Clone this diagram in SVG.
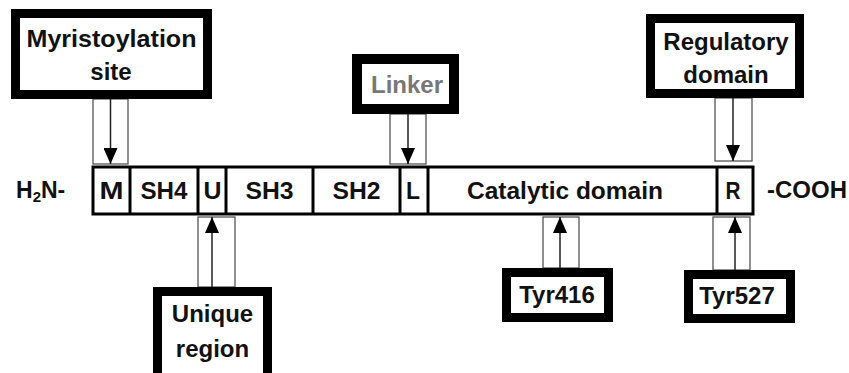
<svg xmlns="http://www.w3.org/2000/svg" width="849" height="373" viewBox="0 0 849 373">
<defs>
<style>
text{font-family:"Liberation Sans",Arial,sans-serif;font-weight:bold;fill:#111;text-anchor:middle}
.lbl{font-size:24px}
.bar{font-size:23px}
.box{fill:#fff;stroke:#000;stroke-width:9}
.seg{fill:#fff;stroke:#000;stroke-width:3}
.div{stroke:#000;stroke-width:3}
.sleeve{fill:none;stroke:#555;stroke-width:1.3}
.arr{stroke:#222;stroke-width:1.5}
</style>
<marker id="ahb" viewBox="0 0 16 14" refX="16" refY="7" markerWidth="16" markerHeight="14" markerUnits="userSpaceOnUse" orient="auto">
<path d="M0,0 L16,7 L0,14 Z" fill="#000"/>
</marker>
</defs>
<rect width="849" height="373" fill="#fff"/>

<g id="connectors">
<rect class="sleeve" x="93" y="99" width="35" height="65"/>
<line class="arr" x1="110.5" y1="99" x2="110.5" y2="164" marker-end="url(#ahb)"/>
<rect class="sleeve" x="390" y="114" width="36" height="50"/>
<line class="arr" x1="408" y1="114" x2="408" y2="164" marker-end="url(#ahb)"/>
<rect class="sleeve" x="715" y="98" width="37" height="63"/>
<line class="arr" x1="733" y1="98" x2="733" y2="161" marker-end="url(#ahb)"/>
<rect class="sleeve" x="198" y="217" width="37" height="70"/>
<line class="arr" x1="212" y1="287" x2="212" y2="217" marker-end="url(#ahb)"/>
<rect class="sleeve" x="543" y="217" width="36" height="51"/>
<line class="arr" x1="560" y1="268" x2="560" y2="217" marker-end="url(#ahb)"/>
<rect class="sleeve" x="713" y="217" width="37" height="53"/>
<line class="arr" x1="735" y1="270" x2="735" y2="217" marker-end="url(#ahb)"/>
</g>

<g id="protein">
<rect class="seg" x="93" y="167" width="660" height="47"/>
<line class="div" x1="130" y1="167" x2="130" y2="214"/>
<line class="div" x1="198" y1="167" x2="198" y2="214"/>
<line class="div" x1="226" y1="167" x2="226" y2="214"/>
<line class="div" x1="313" y1="167" x2="313" y2="214"/>
<line class="div" x1="400" y1="167" x2="400" y2="214"/>
<line class="div" x1="428" y1="167" x2="428" y2="214"/>
<line class="div" x1="717" y1="167" x2="717" y2="214"/>
<text class="bar" x="111.5" y="199" textLength="24" lengthAdjust="spacingAndGlyphs">M</text>
<text class="bar" x="164" y="199" textLength="47" lengthAdjust="spacingAndGlyphs">SH4</text>
<text class="bar" x="212.5" y="199" textLength="18" lengthAdjust="spacingAndGlyphs">U</text>
<text class="bar" x="269.5" y="199" textLength="48" lengthAdjust="spacingAndGlyphs">SH3</text>
<text class="bar" x="356.5" y="199" textLength="48" lengthAdjust="spacingAndGlyphs">SH2</text>
<text class="bar" x="413" y="199" textLength="14" lengthAdjust="spacingAndGlyphs">L</text>
<text class="bar" x="565" y="199" textLength="196" lengthAdjust="spacingAndGlyphs">Catalytic domain</text>
<text class="bar" x="733" y="199" textLength="15" lengthAdjust="spacingAndGlyphs">R</text>
<text class="bar" x="16" y="198" style="text-anchor:start">H<tspan font-size="15" dy="4">2</tspan><tspan dy="-4">N-</tspan></text>
<text class="bar" x="767" y="198" style="text-anchor:start" textLength="80" lengthAdjust="spacingAndGlyphs">-COOH</text>
</g>

<g id="myristoylation">
<rect class="box" x="15.5" y="13.5" width="192" height="81"/>
<text class="lbl" x="111.5" y="47" textLength="170" lengthAdjust="spacingAndGlyphs">Myristoylation</text>
<text class="lbl" x="111" y="80">site</text>
</g>

<g id="linker">
<rect class="box" x="357" y="59" width="97" height="50" style="stroke-width:10"/>
<text class="lbl" x="407" y="93" style="fill:#777">Linker</text>
</g>

<g id="regulatory">
<rect class="box" x="650.5" y="18.5" width="149" height="75"/>
<text class="lbl" x="726" y="50">Regulatory</text>
<text class="lbl" x="726" y="83">domain</text>
</g>

<g id="unique">
<rect class="box" x="157.5" y="291.5" width="110" height="86"/>
<text class="lbl" x="212.5" y="322">Unique</text>
<text class="lbl" x="212.5" y="357">region</text>
</g>

<g id="tyr416">
<rect class="box" x="506.5" y="272.5" width="102" height="45"/>
<text class="lbl" x="557" y="303">Tyr416</text>
</g>

<g id="tyr527">
<rect class="box" x="688.5" y="274.5" width="102" height="44"/>
<text class="lbl" x="737" y="304">Tyr527</text>
</g>
</svg>
